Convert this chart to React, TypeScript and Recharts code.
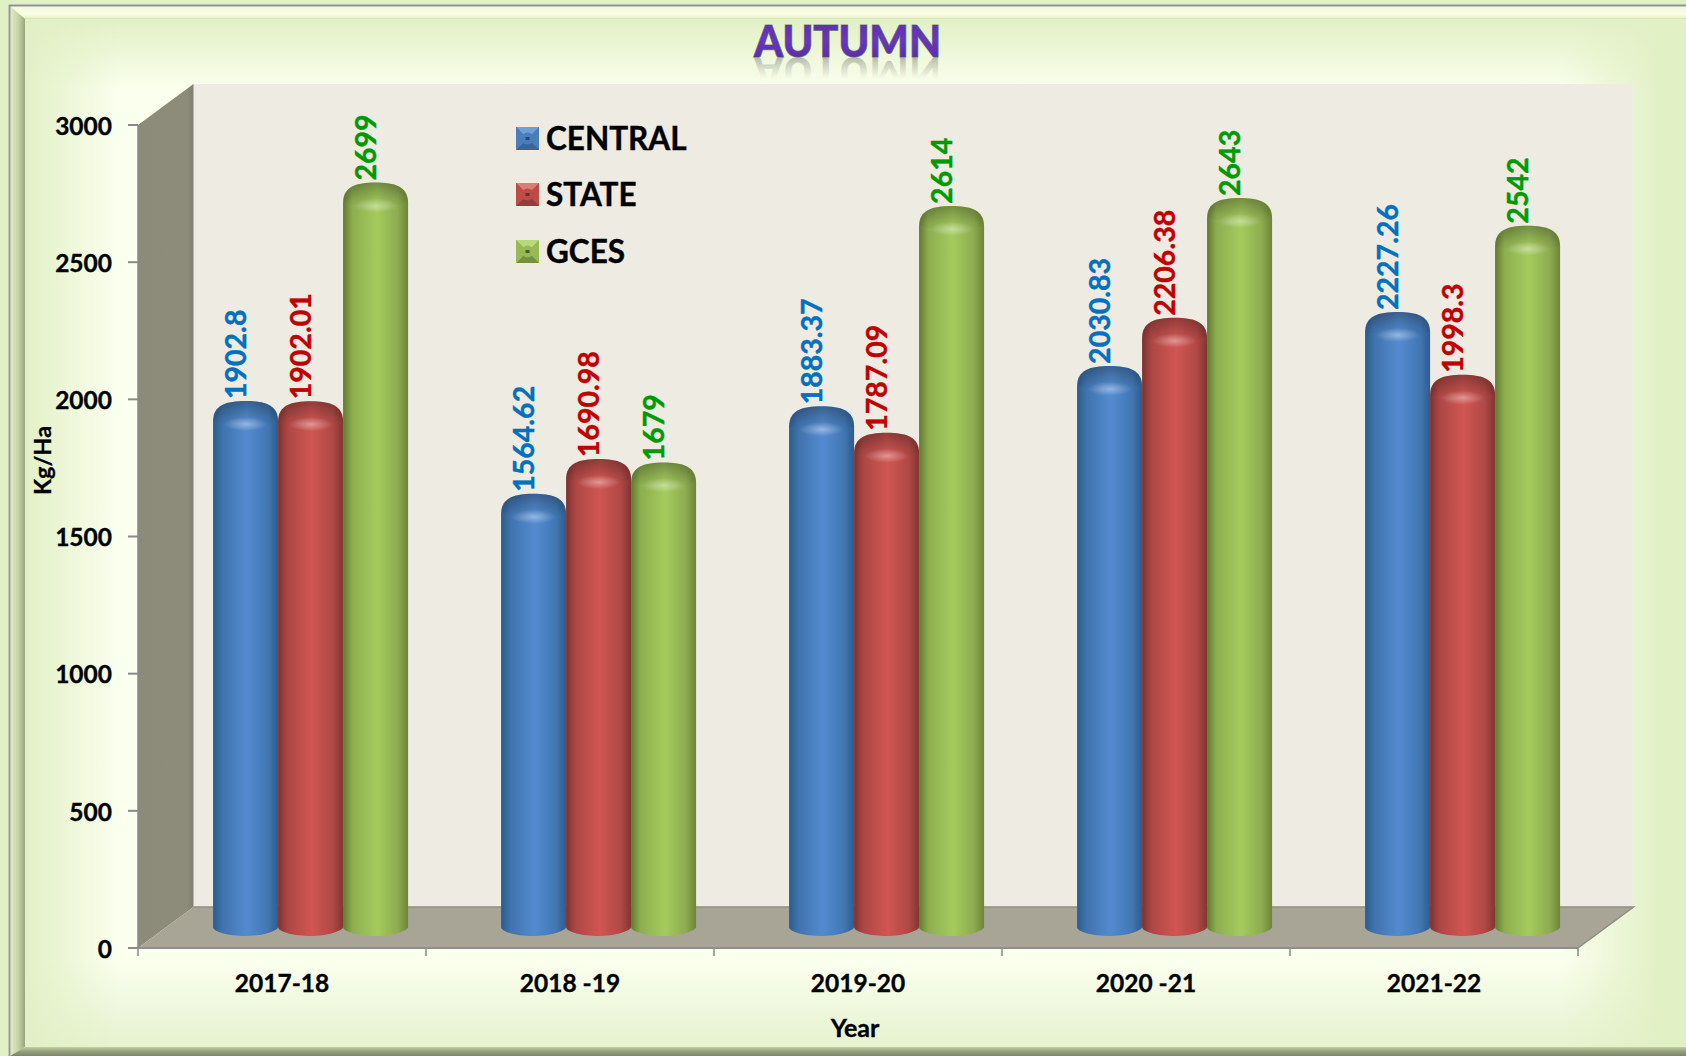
import React from 'react';
import { BarChart, Bar, XAxis, YAxis, Legend, LabelList } from 'recharts';

const categories = ['2017-18', '2018 -19', '2019-20', '2020 -21', '2021-22'];
const central = [1902.8, 1564.62, 1883.37, 2030.83, 2227.26];
const stateVals = [1902.01, 1690.98, 1787.09, 2206.38, 1998.3];
const gces = [2699, 1679, 2614, 2643, 2542];
const yTicks = [0, 500, 1000, 1500, 2000, 2500, 3000];
const seriesKeys = ['CENTRAL', 'STATE', 'GCES'];
const rows = categories.map((year, i) => ({ year, CENTRAL: central[i], STATE: stateVals[i], GCES: gces[i] }));

const W = 1686, H = 1056;
const L = 138, R = 1578, T = 125, B = 948;
const DX = 55.5, DY = 41;
const SX = 29, SY = 20;
const FONT = 'Lato, "Noto Sans", sans-serif';

const palette: Record<string, { id: string; label: string; light: string; base: string; dark: string }> = {
  CENTRAL: { id: 'cBlue', label: '#0070c0', light: '#6d9fdc', base: '#4a7ebb', dark: '#2f5d92' },
  STATE: { id: 'cRed', label: '#c00000', light: '#e07a76', base: '#be4b48', dark: '#873634' },
  GCES: { id: 'cGreen', label: '#009900', light: '#b9d878', base: '#98b954', dark: '#6a8436' },
};

function CylGrad({ id, s }: { id: string; s: string[] }) {
  return (
    <linearGradient id={id} x1="0" y1="0" x2="1" y2="0">
      <stop offset="0" stopColor={s[0]} />
      <stop offset="0.14" stopColor={s[1]} />
      <stop offset="0.52" stopColor={s[2]} />
      <stop offset="0.84" stopColor={s[3]} />
      <stop offset="1" stopColor={s[4]} />
    </linearGradient>
  );
}

function Backdrop() {
  return (
    <svg width={W} height={H} style={{ position: 'absolute', left: 0, top: 0 }}>
      <defs>
        <CylGrad id="cBlue" s={['#2d5a8e', '#3f73ad', '#548bd0', '#4177b4', '#2f5c8c']} />
        <CylGrad id="cRed" s={['#7c3230', '#ad4744', '#d05652', '#b14845', '#7f3533']} />
        <CylGrad id="cGreen" s={['#5f7a30', '#8dad4f', '#a5cb5e', '#8eac50', '#6b8637']} />
        <linearGradient id="capShade" x1="0" y1="0" x2="0" y2="1">
          <stop offset="0" stopColor="#000" stopOpacity="0.3" />
          <stop offset="0.7" stopColor="#000" stopOpacity="0.06" />
          <stop offset="1" stopColor="#000" stopOpacity="0" />
        </linearGradient>
        <radialGradient id="capGlow" cx="0.5" cy="0.5" r="0.5">
          <stop offset="0" stopColor="#fff" stopOpacity="0.38" />
          <stop offset="1" stopColor="#fff" stopOpacity="0" />
        </radialGradient>
        <linearGradient id="wallShade" x1="0" y1="0" x2="1" y2="0">
          <stop offset="0" stopColor="#8c8a78" />
          <stop offset="0.88" stopColor="#8d8b79" />
          <stop offset="1" stopColor="#807e6d" />
        </linearGradient>
        <linearGradient id="titleFill" x1="0" y1="0" x2="0" y2="1">
          <stop offset="0" stopColor="#5a2ea6" />
          <stop offset="0.5" stopColor="#6a35c4" />
          <stop offset="1" stopColor="#5429a0" />
        </linearGradient>
        <linearGradient id="reflect" gradientUnits="userSpaceOnUse" x1="0" y1="57" x2="0" y2="35">
          <stop offset="0" stopColor="#777" stopOpacity="0.5" />
          <stop offset="1" stopColor="#999" stopOpacity="0" />
        </linearGradient>
        <linearGradient id="bevelL" x1="0" y1="0" x2="1" y2="0">
          <stop offset="0" stopColor="#e4ecc8" />
          <stop offset="0.55" stopColor="#c6d3a4" />
          <stop offset="1" stopColor="#98a780" />
        </linearGradient>
        <linearGradient id="bevelT" x1="0" y1="0" x2="0" y2="1">
          <stop offset="0" stopColor="#f3f9da" />
          <stop offset="0.6" stopColor="#fbfee8" />
          <stop offset="0.85" stopColor="#eef6d2" />
          <stop offset="1" stopColor="#d4e0b0" />
        </linearGradient>
        <linearGradient id="bevelB" x1="0" y1="0" x2="0" y2="1">
          <stop offset="0" stopColor="#c5cfa8" />
          <stop offset="0.45" stopColor="#97a27e" />
          <stop offset="1" stopColor="#7c8468" />
        </linearGradient>
      </defs>

      {/* frame */}
      <polygon points={`10,6 ${W},6 ${W},19 25,19`} fill="url(#bevelT)" />
      <polygon points="10,6 25,19 25,1047 10,1056" fill="url(#bevelL)" />
      <polygon points={`10,1056 25,1047 ${W},1047 ${W},1056`} fill="url(#bevelB)" />
      <line x1={9.5} y1={5} x2={9.5} y2={H} stroke="#9a9a9a" strokeWidth={2} />
      <line x1={9} y1={5.5} x2={W} y2={5.5} stroke="#939393" strokeWidth={2} />

      {/* 3D walls */}
      <rect x={L + DX} y={T - DY} width={R - L} height={B - T} fill="#eeebe3" />
      <polygon
        points={`${L},${T} ${L + DX},${T - DY} ${L + DX},${B - DY} ${L},${B}`}
        fill="url(#wallShade)"
      />
      <polygon
        points={`${L},${B} ${L + DX},${B - DY} ${R + DX},${B - DY} ${R},${B}`}
        fill="#a8a597"
      />
      <polyline
        points={`${L + DX},${B - DY} ${R + DX},${B - DY} ${R},${B}`}
        fill="none"
        stroke="#8e8e86"
        strokeWidth={1.5}
      />

      {/* title */}
      <g fontFamily={FONT} fontWeight={900} fontSize={44}>
        <text x={754} y={57} textLength={187} lengthAdjust="spacingAndGlyphs" fill="url(#titleFill)" stroke="#4b4a63" strokeOpacity={0.65} strokeWidth={1.2}>
          AUTUMN
        </text>
        <text aria-hidden="true" x={754} y={57} textLength={187} lengthAdjust="spacingAndGlyphs" fill="url(#reflect)" transform="translate(0,114) scale(1,-1)">
          AUTUMN
        </text>
      </g>
    </svg>
  );
}

function makeCylinder(key: string) {
  return function Cylinder(p: any) {
    const x = p.x + SX;
    const y = p.y - SY;
    const w = p.width;
    const bottom = p.y + p.height - SY + 2;
    const cap = 15;
    const body =
      `M${x},${y + cap} C${x},${y - 1} ${x + w * 0.2},${y - 5} ${x + w / 2},${y - 5} ` +
      `C${x + w * 0.8},${y - 5} ${x + w},${y - 1} ${x + w},${y + cap} ` +
      `L${x + w},${bottom - 3} C${x + w},${bottom + 1} ${x + w * 0.75},${bottom + 6} ${x + w / 2},${bottom + 6} ` +
      `C${x + w * 0.25},${bottom + 6} ${x},${bottom + 2} ${x},${bottom - 3} Z`;
    const capPath =
      `M${x + 1},${y + cap} C${x + 1},${y - 1} ${x + w * 0.2},${y - 5} ${x + w / 2},${y - 5} ` +
      `C${x + w * 0.8},${y - 5} ${x + w - 1},${y - 1} ${x + w - 1},${y + cap} ` +
      `Q${x + w / 2},${y + 24} ${x + 1},${y + cap} Z`;
    return (
      <g>
        <path d={body} fill={`url(#${palette[key].id})`} />
        <path d={capPath} fill="url(#capShade)" />
        <ellipse cx={x + w / 2} cy={y + 18} rx={w * 0.34} ry={7} fill="url(#capGlow)" />
      </g>
    );
  };
}

function makeValueLabel(key: string) {
  return function ValueLabel(p: any) {
    const cx = p.x + p.width / 2 + SX - 11;
    const by = p.y - SY - 7;
    return (
      <text
        x={cx}
        y={by}
        transform={`rotate(-90 ${cx} ${by})`}
        textAnchor="start"
        dominantBaseline="central"
        fontFamily={FONT}
        fontWeight={700}
        fontSize={28.5}
        stroke={palette[key].label}
        strokeWidth={0.4}
        fill={palette[key].label}
      >
        {p.value}
      </text>
    );
  };
}

function XTick(p: any) {
  const band = (R - L) / categories.length;
  const isLast = p.index === categories.length - 1;
  return (
    <g>
      <line x1={p.x - band / 2} y1={B} x2={p.x - band / 2} y2={B + 8} stroke="#8a8a8a" strokeWidth={1.5} />
      {isLast ? <line x1={p.x + band / 2} y1={B} x2={p.x + band / 2} y2={B + 8} stroke="#8a8a8a" strokeWidth={1.5} /> : null}
      <text x={p.x} y={982.5} textAnchor="middle" dominantBaseline="central" fontFamily={FONT} fontWeight={700} fontSize={24.5} stroke="#000" strokeWidth={0.35} fill="#000">
        {p.payload.value}
      </text>
    </g>
  );
}

function LegendSwatch({ k }: { k: string }) {
  const c = palette[k];
  return (
    <svg width={23} height={23} style={{ display: 'block' }}>
      <rect width={23} height={23} fill={c.base} />
      <polygon points="0,0 23,0 11.5,11.5" fill={c.light} />
      <polygon points="0,23 23,23 11.5,11.5" fill={c.dark} opacity={0.75} />
      <polygon points="0,0 0,23 11.5,11.5" fill={c.base} />
      <circle cx={11.5} cy={11.5} r={6} fill={c.base} />
      <rect x={9.5} y={10} width={4} height={3} fill="#26303a" opacity={0.7} />
    </svg>
  );
}

function LegendBox(props: any) {
  const items = seriesKeys.map((k) => props.payload.find((e: any) => e.value === k)).filter(Boolean);
  return (
    <div>
      {items.map((e: any) => (
        <div key={e.value} style={{ display: 'flex', alignItems: 'center', height: 56.5 }}>
          <LegendSwatch k={e.value} />
          <span style={{ marginLeft: 7, fontFamily: FONT, fontWeight: 700, fontSize: 31.5, color: '#000', lineHeight: 1, WebkitTextStroke: '0.4px #000' }}>{e.value}</span>
        </div>
      ))}
    </div>
  );
}

export default function App() {
  return (
    <div
      style={{
        position: 'absolute',
        left: 0,
        top: 0,
        width: W,
        height: H,
        overflow: 'hidden',
        background:
          'linear-gradient(to right, #e2f0c6 25px, rgba(226,240,198,0) 120px, rgba(226,240,198,0) 1560px, #e2f0c6 1660px),' +
          'linear-gradient(to bottom, #e2f0c6 20px, rgba(226,240,198,0) 90px, rgba(226,240,198,0) 960px, #e6f2cf 1047px),' +
          '#fbffee',
      }}
    >
      <Backdrop />
      <div style={{ position: 'absolute', left: 0, top: 0 }}>
        <BarChart
          width={W}
          height={H}
          data={rows}
          margin={{ top: T, right: W - R, bottom: 0, left: 0 }}
          barCategoryGap="16%"
          barGap={0}
        >
          <XAxis
            dataKey="year"
            height={H - B}
            interval={0}
            tickLine={false}
            tick={<XTick />}
            axisLine={{ stroke: '#8e8e8e', strokeWidth: 2 }}
            label={{ value: 'Year', position: 'insideBottom', offset: 19, dx: -3, fontFamily: FONT, fontWeight: 700, fontSize: 25, fill: '#000', stroke: '#000', strokeWidth: 0.35 }}
          />
          <YAxis
            width={L}
            domain={[0, 3000]}
            ticks={yTicks}
            interval={0}
            tickSize={10}
            tickMargin={16}
            tickLine={{ stroke: '#8a8a8a', strokeWidth: 2 }}
            axisLine={{ stroke: '#8a8a8a', strokeWidth: 1.5 }}
            tick={{ fontFamily: FONT, fontWeight: 700, fontSize: 24.5, fill: '#000', stroke: '#000', strokeWidth: 0.35, dy: 1 }}
            label={{ value: 'Kg/Ha', angle: -90, position: 'insideLeft', offset: 43, dy: -76, fontFamily: FONT, fontWeight: 700, fontSize: 23.5, fill: '#000', stroke: '#000', strokeWidth: 0.3, textAnchor: 'middle' }}
          />
          <Legend
            layout="vertical"
            align="center"
            verticalAlign="middle"
            content={<LegendBox />}
            wrapperStyle={{ position: 'absolute', left: 516, top: 110, width: 260, height: 170 }}
          />
          {seriesKeys.map((k) => (
            <Bar key={k} dataKey={k} fill={palette[k].base} isAnimationActive={false} shape={makeCylinder(k)}>
              <LabelList dataKey={k} content={makeValueLabel(k)} />
            </Bar>
          ))}
        </BarChart>
      </div>
    </div>
  );
}
